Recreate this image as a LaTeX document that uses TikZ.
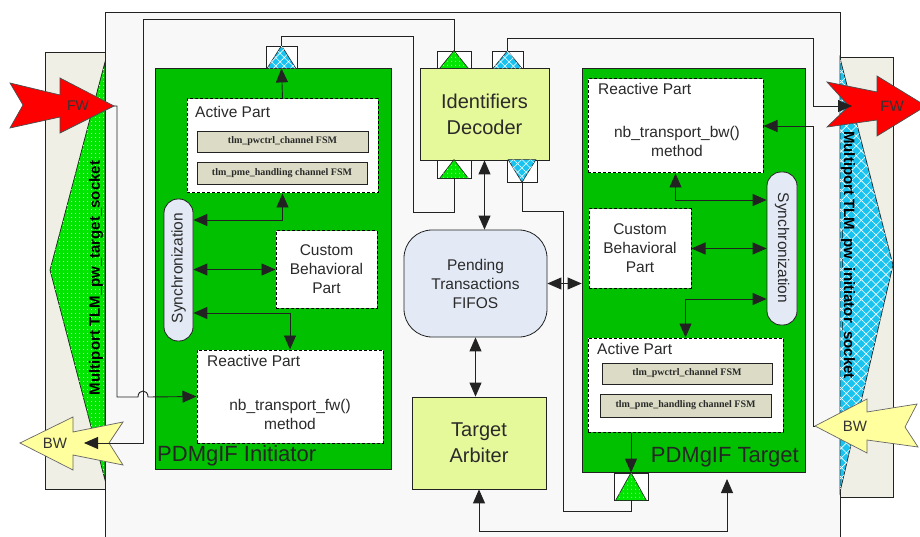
\documentclass[tikz,border=0pt]{standalone}
\usepackage{fontspec}
\setmainfont{Liberation Sans}
\newfontfamily\fsmfont{Liberation Serif}
\usetikzlibrary{arrows.meta,patterns.meta}

\definecolor{outerfill}{HTML}{F8F8F8}
\definecolor{sockfill}{HTML}{EFEFE6}
\definecolor{boxgreen}{HTML}{00C000}
\definecolor{portgreen}{HTML}{00E600}
\definecolor{portblue}{HTML}{19C3F0}
\definecolor{decfill}{HTML}{E6F99A}
\definecolor{fifofill}{HTML}{E3EAF6}
\definecolor{fsmfill}{HTML}{DCDCC6}
\definecolor{fwred}{HTML}{FF0000}
\definecolor{bwyellow}{HTML}{FFFF9E}
\definecolor{linecol}{HTML}{222222}
\definecolor{textcol}{HTML}{2A2A2A}

\newcommand\dgmid{\fontsize{15.5}{19}\selectfont}
\newcommand\dgbig{\fontsize{20}{26}\selectfont}
\newcommand\dghuge{\fontsize{22}{26}\selectfont}
\newcommand\dgfsm{\fsmfont\bfseries\fontsize{10}{12}\selectfont}
\newcommand\dgsock{\bfseries\fontsize{15}{18}\selectfont}

\tikzset{
  conn/.style={draw=linecol, line width=0.9pt},
  arr/.style={conn, -{Triangle[length=14pt,width=12pt]}},
  dbl/.style={conn, {Triangle[length=14pt,width=12pt]}-{Triangle[length=14pt,width=12pt]}},
  sock/.style={draw=linecol, line width=0.8pt, fill=sockfill, inner sep=0pt},
  gbox/.style={draw=linecol, line width=0.8pt, fill=boxgreen, inner sep=0pt},
  partbox/.style={draw=black, fill=white, dash pattern=on 3pt off 2pt, line width=1pt, inner sep=0pt, text=textcol, font=\dgmid, align=center},
  fsmbox/.style={draw=linecol, line width=0.8pt, fill=fsmfill, inner sep=0pt, text=textcol, font=\dgfsm},
  syncbox/.style={draw=linecol, line width=0.8pt, fill=fifofill, rounded corners=14pt, inner sep=0pt},
  yellowbox/.style={draw=linecol, line width=0.8pt, fill=decfill, inner sep=0pt, text=textcol, font=\dgbig, align=center},
  portsq/.style={draw=linecol, line width=0.8pt, fill=white, inner sep=0pt},
  bluetri/.style={draw=linecol, line width=0.6pt, fill=portblue, postaction={pattern={Hatch[angle=45,distance=6pt,line width=0.6pt]}, pattern color=white}},
  greentri/.style={draw=linecol, line width=0.6pt, fill=portgreen, postaction={pattern={Dots[distance=4pt,radius=0.6pt]}, pattern color=white}},
  lbl/.style={text=textcol, font=\dgmid, inner sep=0pt, align=center},
}

\begin{document}
\begin{tikzpicture}[x=1pt,y=-1pt]
\useasboundingbox (0,0) rectangle (920,537);
\fill[white] (0,0) rectangle (920,537);

% outer container
\draw[linecol, line width=0.8pt, fill=outerfill] (105,560) -- (105,12) -- (840,12) -- (840,560);

% sockets
\node[sock, minimum width=60pt, minimum height=437pt] (lsock) at (75,270.5) {};
\node[sock, minimum width=53pt, minimum height=440pt] (rsock) at (866.5,277) {};
\filldraw[draw=linecol, line width=0.7pt, fill=portgreen, postaction={pattern={Dots[distance=4pt,radius=0.6pt]}, pattern color=white}]
  (105,62) -- (50,270) -- (105,480) -- cycle;
\filldraw[draw=linecol, line width=0.7pt, fill=portblue, postaction={pattern={Hatch[angle=45,distance=7pt,line width=0.6pt]}, pattern color=white}]
  (840,58) -- (893,265) -- (840,492) -- cycle;
\node[rotate=90, text=black, font=\dgsock, inner sep=0pt] (ltext) at (96,278) {Multiport TLM\_pw\_target\_socket};
\node[rotate=-90, text=black, font=\dgsock, inner sep=0pt] (rtext) at (848,255) {Multiport TLM\_pw\_initiator\_socket};

% green component boxes
\node[gbox, minimum width=236pt, minimum height=401pt] (ini) at (273,268.5) {};
\node[gbox, minimum width=223pt, minimum height=404pt] (tgt) at (693.5,270) {};
\node[anchor=west, text=black!85, font=\dghuge, inner sep=0pt] (iniLabel) at (157,456) {PDMgIF Initiator};
\node[anchor=east, text=black!85, font=\dghuge, inner sep=0pt] (tgtLabel) at (799,457) {PDMgIF Target};

% initiator internals
\node[partbox, minimum width=191pt, minimum height=94pt] (iact) at (282.5,146) {};
\node[lbl, anchor=west] (iactL) at (195,112) {Active Part};
\node[fsmbox, minimum width=171pt, minimum height=21pt] (ifsm1) at (282.5,141.5) {tlm\_pwctrl\_channel FSM};
\node[fsmbox, minimum width=170pt, minimum height=22pt] (ifsm2) at (282,173) {tlm\_pme\_handling channel FSM};
\node[syncbox, minimum width=29pt, minimum height=142pt] (isync) at (178.5,270) {};
\node[lbl, rotate=90] (isyncL) at (178.5,268) {Synchronization};
\node[partbox, minimum width=101pt, minimum height=77pt] (icbp) at (326.5,269.5) {Custom\\Behavioral\\Part};
\node[partbox, minimum width=186pt, minimum height=93pt] (ireact) at (290,396.5) {};
\node[lbl, anchor=west] (ireactL) at (207,361) {Reactive Part};
\node[lbl] (ireactM) at (290,414) {nb\_transport\_fw()\\method};

% target internals
\node[partbox, minimum width=175pt, minimum height=94pt] (treact) at (675.5,126) {};
\node[lbl, anchor=west] (treactL) at (598,89) {Reactive Part};
\node[lbl] (treactM) at (677,141) {nb\_transport\_bw()\\method};
\node[syncbox, minimum width=30pt, minimum height=153pt] (tsync) at (782,248.5) {};
\node[lbl, rotate=-90] (tsyncL) at (782,248) {Synchronization};
\node[partbox, minimum width=102pt, minimum height=79pt] (tcbp) at (640,248.5) {Custom\\Behavioral\\Part};
\node[partbox, minimum width=195pt, minimum height=94pt] (tact) at (685.5,385) {};
\node[lbl, anchor=west] (tactL) at (597,349) {Active Part};
\node[fsmbox, minimum width=170pt, minimum height=21pt] (tfsm1) at (687,373.5) {tlm\_pwctrl\_channel FSM};
\node[fsmbox, minimum width=171pt, minimum height=23pt] (tfsm2) at (685.5,405.5) {tlm\_pme\_handling channel FSM};

% central blocks
\node[yellowbox, minimum width=129pt, minimum height=92pt] (dec) at (484.5,114) {Identifiers\\Decoder};
\node[draw=linecol, line width=0.8pt, fill=fifofill, rounded corners=28pt, inner sep=0pt, minimum width=143pt, minimum height=107pt, text=textcol, font=\dgmid, align=center] (fifo) at (475.5,283.5) {Pending\\Transactions\\FIFOS};
\node[yellowbox, minimum width=134pt, minimum height=92pt] (arb) at (479,443) {Target\\Arbiter};

% ports
\node[portsq, minimum width=31pt, minimum height=22pt] (pI) at (281.5,57) {};
\filldraw[bluetri] (pI.north) -- ([xshift=1.5pt]pI.south west) -- ([xshift=-1.5pt]pI.south east) -- cycle;
\node[portsq, minimum width=34pt, minimum height=17pt] (pDT1) at (454,59.5) {};
\filldraw[greentri] (pDT1.north) -- ([xshift=3pt]pDT1.south west) -- ([xshift=-3pt]pDT1.south east) -- cycle;
\node[portsq, minimum width=31pt, minimum height=17pt] (pDT2) at (507.5,59.5) {};
\filldraw[bluetri] (pDT2.north) -- ([xshift=1.5pt]pDT2.south west) -- ([xshift=-1.5pt]pDT2.south east) -- cycle;
\node[portsq, minimum width=34pt, minimum height=18pt] (pDB1) at (454,169) {};
\filldraw[greentri] (pDB1.north) -- ([xshift=3pt]pDB1.south west) -- ([xshift=-3pt]pDB1.south east) -- cycle;
\node[portsq, minimum width=30pt, minimum height=22pt] (pDB2) at (522,171) {};
\filldraw[bluetri] ([xshift=1.5pt]pDB2.north west) -- ([xshift=-1.5pt]pDB2.north east) -- (pDB2.south) -- cycle;
\node[portsq, minimum width=34pt, minimum height=27pt] (pT) at (631,486.5) {};
\filldraw[greentri] (pT.north) -- ([xshift=2pt]pT.south west) -- ([xshift=-2pt]pT.south east) -- cycle;

% FW / BW socket arrows
\filldraw[draw=black!70, line width=0.7pt, fill=fwred] (10,83) -- (60,95) -- (60,78) -- (114,106) -- (60,133) -- (60,117) -- (10,128) -- (23,105) -- cycle;
\node[text=black!80, font=\fontsize{14}{16}\selectfont, inner sep=0pt] (lfwL) at (78,106) {FW};
\filldraw[draw=black!60, line width=0.7pt, fill=bwyellow] (20,443) -- (73,417) -- (73,432) -- (123,422) -- (109,443) -- (123,465) -- (73,455) -- (73,470) -- cycle;
\node[text=black!80, font=\fontsize{15}{17}\selectfont, inner sep=0pt] (lbwL) at (55,443) {BW};
\filldraw[draw=black!70, line width=0.7pt, fill=fwred] (827,82) -- (877,92) -- (877,76) -- (926,106) -- (877,136) -- (877,120) -- (827,127) -- (849,106) -- cycle;
\node[text=black!80, font=\fontsize{15}{17}\selectfont, inner sep=0pt] (rfwL) at (892,106) {FW};
\filldraw[draw=black!60, line width=0.7pt, fill=bwyellow] (815,426) -- (867,399) -- (867,412) -- (917,404) -- (905,427) -- (918,447) -- (867,440) -- (867,453) -- cycle;
\node[text=black!80, font=\fontsize{15}{17}\selectfont, inner sep=0pt] (rbwL) at (855,426) {BW};

\coordinate (lfwTip) at (114,106);
\coordinate (lbwIn) at (84,443);
\coordinate (rfwIn) at (852,106);
\coordinate (rbwTip) at (815,426);
\coordinate (tgtArr) at (727,479);

% connectors: left side
\draw[arr] (lfwTip) -- (117,106) -- (117,397) -- (138,397) .. controls (138,389) and (148,389) .. (148,397) -- (ireact.west);
\draw[arr] (pDT1.north) |- (143,19) -- (143,443) -- (lbwIn);
\draw[conn] (pI.north) |- (413,36) -- (413,212) -| (pDB1.south);

% connectors: right side
\draw[arr] (pDT2.north) |- (813,38) -- (813,106) -- (rfwIn);
\draw[arr] (rbwTip) -- (813,426) -- (813,126) -- (treact.east |- 0,126);
\draw[conn] (pDB2.south) |- (563,211) -- (563,511) -| (pT.south);
\draw[dbl] (arb.south) |- (727,531) -- (tgtArr);

% central
\draw[dbl] (dec.south) -- (dec.south |- fifo.north);
\draw[dbl] (fifo.east) -- (tgt.west |- fifo.east);
\draw[dbl] (fifo.south) -- (fifo.south |- arb.north);

% initiator internal
\draw[arr] (iact.north) -- (pI.south);
\draw[dbl] (iact.south) |- (isync.east |- 0,220);
\draw[dbl] (isync.east |- icbp.west) -- (icbp.west);
\draw[dbl] (isync.east |- 0,313) -| (ireact.north);

% target internal
\draw[dbl] (treact.south) |- (tsync.west |- 0,200);
\draw[dbl] (tcbp.east) -- (tsync.west |- tcbp.east);
\draw[dbl] (tsync.west |- 0,299) -| (tact.north);
\draw[arr] (tact.south -| pT.north) -- (pT.north);
\end{tikzpicture}
\end{document}
